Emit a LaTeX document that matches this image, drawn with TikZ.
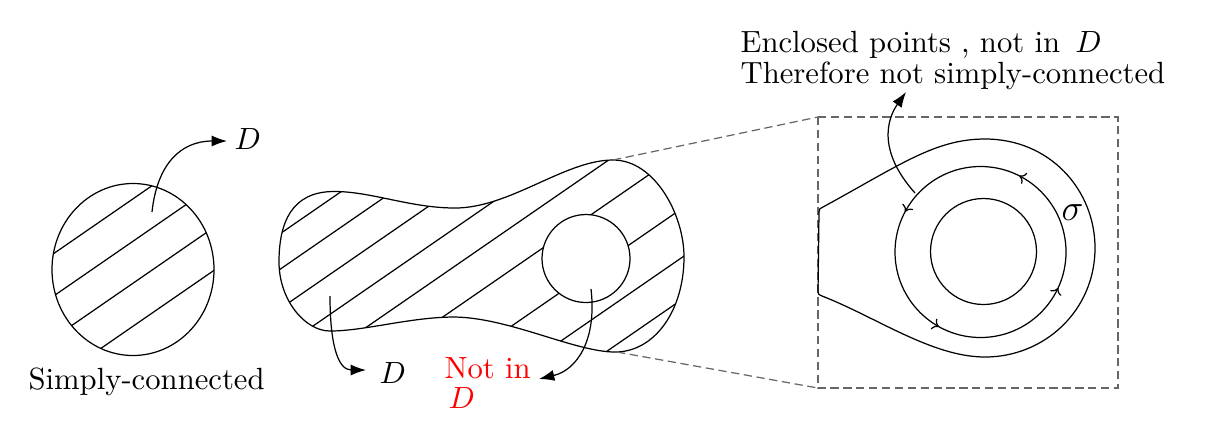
\documentclass[tikz,border=0pt]{standalone}
\usetikzlibrary{arrows.meta,decorations.markings}
\newcommand\blobpath{(279,262) .. controls (279,222) and (292,192) .. (333,191.5)
  .. controls (370,191) and (410,208) .. (455,208)
  .. controls (510,208) and (565,160) .. (613,160)
  .. controls (655,160) and (684,215) .. (684,257)
  .. controls (684,310) and (655,352) .. (615,352)
  .. controls (575,352) and (510,318) .. (455,317)
  .. controls (410,317) and (365,331) .. (330,331)
  .. controls (305,331) and (279,300) .. (279,262) -- cycle}
\begin{document}
\begin{tikzpicture}[x=0.326pt,y=-0.326pt,
  line width=0.4pt,
  arr/.style={-{Latex[length=5pt,width=3.6pt]}},
  guide/.style={draw=black!60, dash pattern=on 2.7pt off 1.5pt},
  lbl/.style={anchor=base west, inner sep=0pt},
  flowmark/.style={postaction={decorate}, decoration={markings,
    mark=at position 0.175 with {\arrow{To[length=2pt,width=4pt]}},
    mark=at position 0.422 with {\arrow{To[length=2pt,width=4pt]}},
    mark=at position 0.669 with {\arrow{To[length=2pt,width=4pt]}},
    mark=at position 0.931 with {\arrow{To[length=2pt,width=4pt]}}}}
]
\useasboundingbox (0,0) rectangle (1221,436);

% ---- simply connected disk
\begin{scope}
  \clip (133,269.5) ellipse [x radius=81, y radius=86];
  \foreach \b in {290.6,333,375,418} \draw (30,{\b-20.7}) -- (240,{\b-165.6});
\end{scope}
\draw (133,269.5) ellipse [x radius=81, y radius=86];
\coordinate (a1s) at (152,212);
\coordinate (a1e) at (227,141);
\draw[arr] (a1s) .. controls (157,165) and (180,141) .. (a1e);
\node[lbl] (d1) at (234,149) {$D$};
\node[lbl] (sc) at (28,389) {Simply-connected};

% ---- region with hole
\begin{scope}
  \clip \blobpath;
  \foreach \b in {427,462.5,502,542,580,622.5,679,728,770}
    \draw (260,{\b-179.4}) -- (700,{\b-483});
\end{scope}
\fill[white] (586,258.5) circle [radius=44];
\draw (586,258.5) circle [radius=44];
\draw \blobpath;

\coordinate (a2s) at (330,296);
\coordinate (a2e) at (366,370);
\draw[arr] (a2s) .. controls (330,345) and (338,370) .. (a2e);
\node[lbl] (d2) at (379,383) {$D$};

\coordinate (a3s) at (591,289);
\coordinate (a3e) at (539,379);
\draw[arr] (a3s) .. controls (597,340) and (577,370) .. (a3e);
\node[lbl, text=red] (ni1) at (444,378) {Not in};
\node[lbl, text=red] (ni2) at (448,408) {$D$};

% ---- zoom guides
\coordinate (bt) at (613,160);
\coordinate (bb) at (617,352);
\coordinate (ztl) at (818,117);
\coordinate (zbl) at (818,388);
\draw[guide] (bt) -- (ztl);
\draw[guide] (bb) -- (zbl);
\draw[guide] (ztl) rectangle (1118,388);

% ---- magnified view
\draw (818,292) -- (819,212) .. controls (819,209) and (820,208) .. (823,207)
  .. controls (900,165) and (935,139) .. (985,139)
  .. controls (1050,139) and (1095,190) .. (1095,248)
  .. controls (1095,310) and (1045,357) .. (985,357)
  .. controls (932,357) and (876,317) .. (822,296)
  .. controls (819,295) and (818,294) .. cycle;
\draw[flowmark] (980.5,252) ++(0:85.5) arc[start angle=0, end angle=-360, radius=85.5];
\draw (983.5,251.5) circle [radius=53];
\node[lbl] (sig) at (1061,220) {\large$\sigma$};

\coordinate (a4s) at (915,193);
\coordinate (a4e) at (906,92);
\draw[arr] (a4s) .. controls (872,145) and (892,112) .. (a4e);
\node[lbl] (t1) at (740,52) {Enclosed points , not in \,$D$};
\node[lbl] (t2) at (740,83) {Therefore not simply-connected};
\end{tikzpicture}
\end{document}
